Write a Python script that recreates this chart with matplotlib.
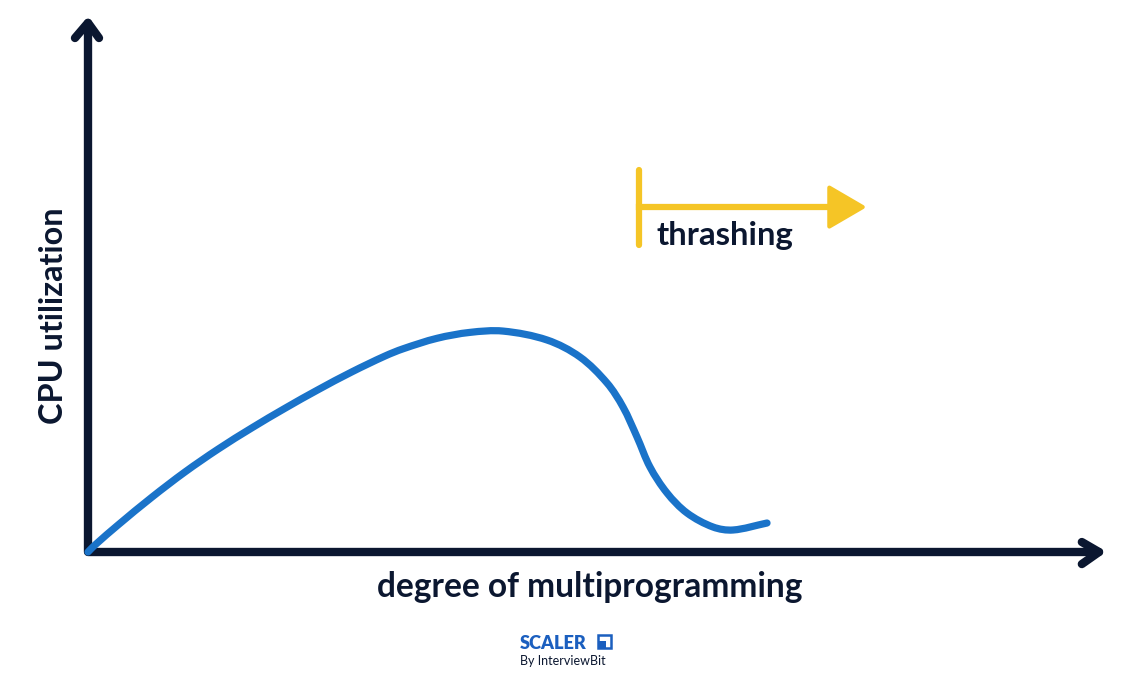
import matplotlib
matplotlib.use('Agg')
import numpy as np
import matplotlib.pyplot as plt
from matplotlib.patches import Polygon, Rectangle, PathPatch
from matplotlib.path import Path

# colours
NAVY = '#0b1730'
BLUE = '#1a73c9'
YELLOW = '#f5c526'
LOGO_BLUE = '#1b5fbf'
FONT = ['Lato', 'DejaVu Sans']

# curve: degree of multiprogramming vs cpu utilization (arbitrary units, 0-100)
degree = [0.00, 0.69, 2.97, 6.34, 9.60, 12.87, 16.24, 19.50, 22.77, 26.14,
          29.41, 31.19, 34.55, 37.82, 41.09, 45.45, 48.71, 51.39, 52.97,
          54.36, 55.64, 57.33, 59.31, 61.88, 63.86, 67.23]
utilization = [0.00, 1.33, 5.14, 10.46, 15.24, 19.58, 23.66, 27.37, 30.90,
               34.32, 37.33, 38.70, 40.70, 41.83, 42.08, 40.38, 37.14, 32.19,
               27.62, 21.90, 16.19, 11.24, 7.43, 4.76, 4.19, 5.52]

# thrashing region
thrash_start = 54.55
thrash_end = 76.7

fig = plt.figure(figsize=(11.32, 6.79), dpi=100)
ax = fig.add_axes([0, 0, 1, 1])
ax.set_xlim(-8.713, 103.366)
ax.set_ylim(-24.19, 105.14)
ax.axis('off')


def fit(t, size_px, vertical=False):
    # scale the font so the text spans size_px pixels
    bb = t.get_window_extent(fig.canvas.get_renderer())
    cur = bb.height if vertical else bb.width
    t.set_fontsize(t.get_fontsize() * size_px / cur)


def smooth_path(xs, ys):
    # hermite spline through the points (chord-length parameter, measured
    # on screen), drawn as cubic bezier segments
    pts = np.column_stack([xs, ys])
    scr = ax.transData.transform(pts)
    t = np.concatenate([[0], np.cumsum(np.hypot(*np.diff(scr, axis=0).T))])
    n = len(pts)
    m = np.zeros_like(pts)
    for i in range(n):
        a, b = max(i - 1, 0), min(i + 1, n - 1)
        m[i] = (pts[b] - pts[a]) / (t[b] - t[a])
    verts = [pts[0]]
    codes = [Path.MOVETO]
    for i in range(n - 1):
        h = t[i + 1] - t[i]
        verts += [pts[i] + m[i] * h / 3, pts[i + 1] - m[i + 1] * h / 3, pts[i + 1]]
        codes += [Path.CURVE4] * 3
    return Path(verts, codes)


# axes with chevron heads
axis_kw = dict(color=NAVY, lw=6, solid_capstyle='round', solid_joinstyle='round')
ax.plot([0, 0, 100.1], [100.8, 0, 0], **axis_kw)
ax.plot([-1.29, 0, 1.09], [97.9, 100.8, 97.9], **axis_kw)
ax.plot([98.4, 100.1, 98.4], [1.9, 0, -2.3], **axis_kw)

# the curve
ax.add_patch(PathPatch(smooth_path(degree, utilization), facecolor='none',
                       edgecolor=BLUE, lw=5.2, capstyle='round',
                       joinstyle='round', zorder=3))

# thrashing arrow
y_mid = 65.7
ax.plot([thrash_start, thrash_start], [58.5, 72.8], color=YELLOW, lw=4.5,
        solid_capstyle='round')
ax.plot([thrash_start, 73.6], [y_mid, y_mid], color=YELLOW, lw=4.5)
ax.add_patch(Polygon([[73.4, 69.4], [thrash_end, y_mid], [73.4, 62.0]],
                     closed=True, facecolor=YELLOW, edgecolor=YELLOW,
                     lw=3, joinstyle='round'))
t = ax.text(56.24, 58.48, 'thrashing', fontsize=20, fontweight='bold',
            family=FONT, color=NAVY, ha='left', va='baseline')
fit(t, 137)

# labels
t = ax.text(49.65, -8.57, 'degree of multiprogramming', fontsize=21,
            fontweight='bold', family=FONT, color=NAVY,
            ha='center', va='baseline')
fit(t, 425)
t = ax.text(-3.37, 44.95, 'CPU utilization', fontsize=21, fontweight='bold',
            family=FONT, color=NAVY, rotation=90, ha='center', va='center')
fit(t, 217, vertical=True)

# logo
t = ax.text(42.77, -18.48, 'SCALER', fontsize=12, fontweight='heavy',
            family=FONT, color=LOGO_BLUE, ha='left', va='baseline')
fit(t, 67)
t = ax.text(42.77, -21.5, 'By InterviewBit', fontsize=9, family=FONT,
            color=NAVY, ha='left', va='baseline')
fit(t, 86)
ax.add_patch(Rectangle((50.45, -18.35), 1.35, 2.45, facecolor='none',
                       edgecolor=LOGO_BLUE, lw=1.8))
ax.add_patch(Rectangle((50.55, -18.25), 0.75, 1.35, facecolor=LOGO_BLUE,
                       edgecolor='none'))

fig.savefig('out.png', dpi=100, facecolor='white')
